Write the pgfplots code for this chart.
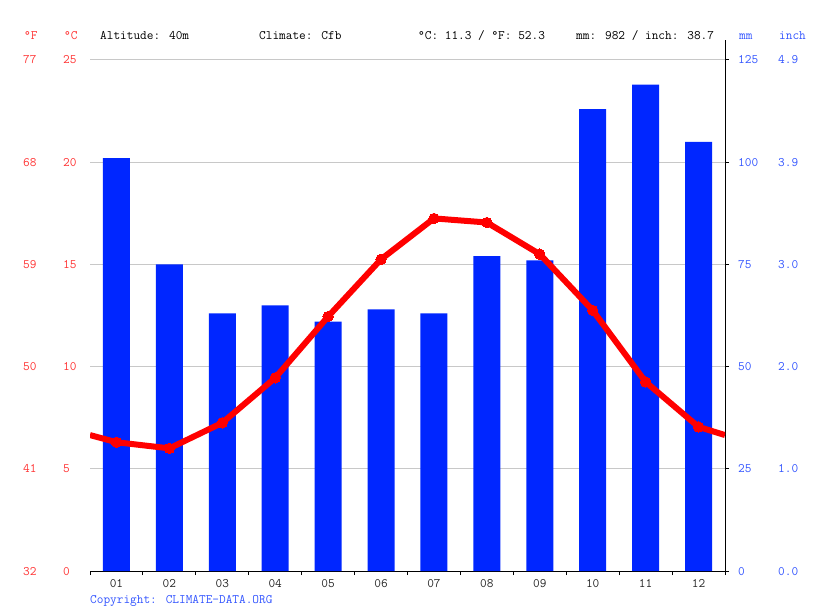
\documentclass[border=0pt]{standalone}
\usepackage{fontspec}
\usepackage{pgfplots}
\pgfplotsset{compat=1.18}
\definecolor{barblue}{RGB}{0,38,255}
\definecolor{linered}{RGB}{255,0,0}
\definecolor{lblred}{RGB}{255,51,51}
\definecolor{lblblue}{RGB}{51,85,255}
\definecolor{gridgray}{RGB}{200,200,200}

\pgfplotstableread{
m  mm
1  101
2  75
3  63
4  65
5  61
6  64
7  63
8  77
9  76
10 113
11 119
12 105
}\precip

\pgfplotstableread{
m    t
0.5  6.65
1    6.3
2    6.0
3    7.25
4    9.45
5    12.45
6    15.25
7    17.25
8    17.05
9    15.5
10   12.75
11   9.25
12   7.05
12.5 6.65
}\temps

\begin{document}
\begin{tikzpicture}[font=\ttfamily\fontsize{13}{15}\selectfont,
  lbl/.style={inner sep=0pt, text height=8bp, text depth=0bp, anchor=west}]
\begin{axis}[
  at={(0,0)}, anchor=south west,
  scale only axis, width=635bp, height=511bp,
  xmin=0.5, xmax=12.5, ymin=0, ymax=125,
  axis x line*=bottom, axis y line*=right,
  axis line style={black, line width=1bp, -},
  xtick={0.5,1.5,...,12.5}, xticklabels={},
  ytick={0,25,...,125}, yticklabels={},
  tick align=outside, major tick length=4bp,
  tick style={black, line width=1bp},
  ymajorgrids, grid style={gridgray, line width=1bp},
  clip=false,
]
\addplot[ybar, bar width=27bp, fill=barblue, draw=none] table[x=m, y=mm] {\precip};
\draw[black, line width=1bp] (axis cs:12.5,125) -- (axis cs:12.5,130);
\end{axis}

\begin{axis}[
  at={(0,0)}, anchor=south west,
  scale only axis, width=635bp, height=511bp,
  xmin=0.5, xmax=12.5, ymin=0, ymax=25,
  hide axis,
]
\addplot[linered, line width=6bp, line join=round, mark=*, mark size=5.2bp,
  mark indices={2,...,13}, mark options={fill=linered, draw=linered, line width=0bp}]
  table[x=m, y=t] {\temps};
\end{axis}

% header
\node[lbl, lblred] at (-66bp,535bp) {°F};
\node[lbl, lblred] at (-26bp,535bp) {°C};
\node[lbl] at (10bp,535bp) {Altitude: 40m};
\node[lbl] at (169bp,535bp) {Climate: Cfb};
\node[lbl] at (328bp,535bp) {°C: 11.3 / °F: 52.3};
\node[lbl] at (486bp,535bp) {mm: 982 / inch: 38.7};
\node[lbl, lblblue] at (649bp,535bp) {mm};
\node[lbl, lblblue] at (689bp,535bp) {inch};

% left temperature labels
\foreach \c/\f [count=\i from 0] in {0/32,5/41,10/50,15/59,20/68,25/77} {
  \node[lbl, lblred] at (-27bp,\i*102.2bp) {\c};
  \node[lbl, lblred] at (-67bp,\i*102.2bp) {\f};
}
% right precipitation labels
\foreach \p/\n [count=\i from 0] in {0/0.0,25/1.0,50/2.0,75/3.0,100/3.9,125/4.9} {
  \node[lbl, lblblue] at (648bp,\i*102.2bp) {\p};
  \node[lbl, lblblue] at (688bp,\i*102.2bp) {\n};
}
% months
\foreach \m [count=\i] in {01,02,03,04,05,06,07,08,09,10,11,12} {
  \node[inner sep=0pt, text height=8bp, text depth=0bp, anchor=center, text=black!85]
    at ({(\i-0.5)*52.9167bp},-12bp) {\m};
}
\node[lbl, lblblue] at (0bp,-28bp) {Copyright: CLIMATE-DATA.ORG};

\pgfresetboundingbox
\path (-90bp,-40bp) rectangle (725bp,571bp);
\end{tikzpicture}
\end{document}
